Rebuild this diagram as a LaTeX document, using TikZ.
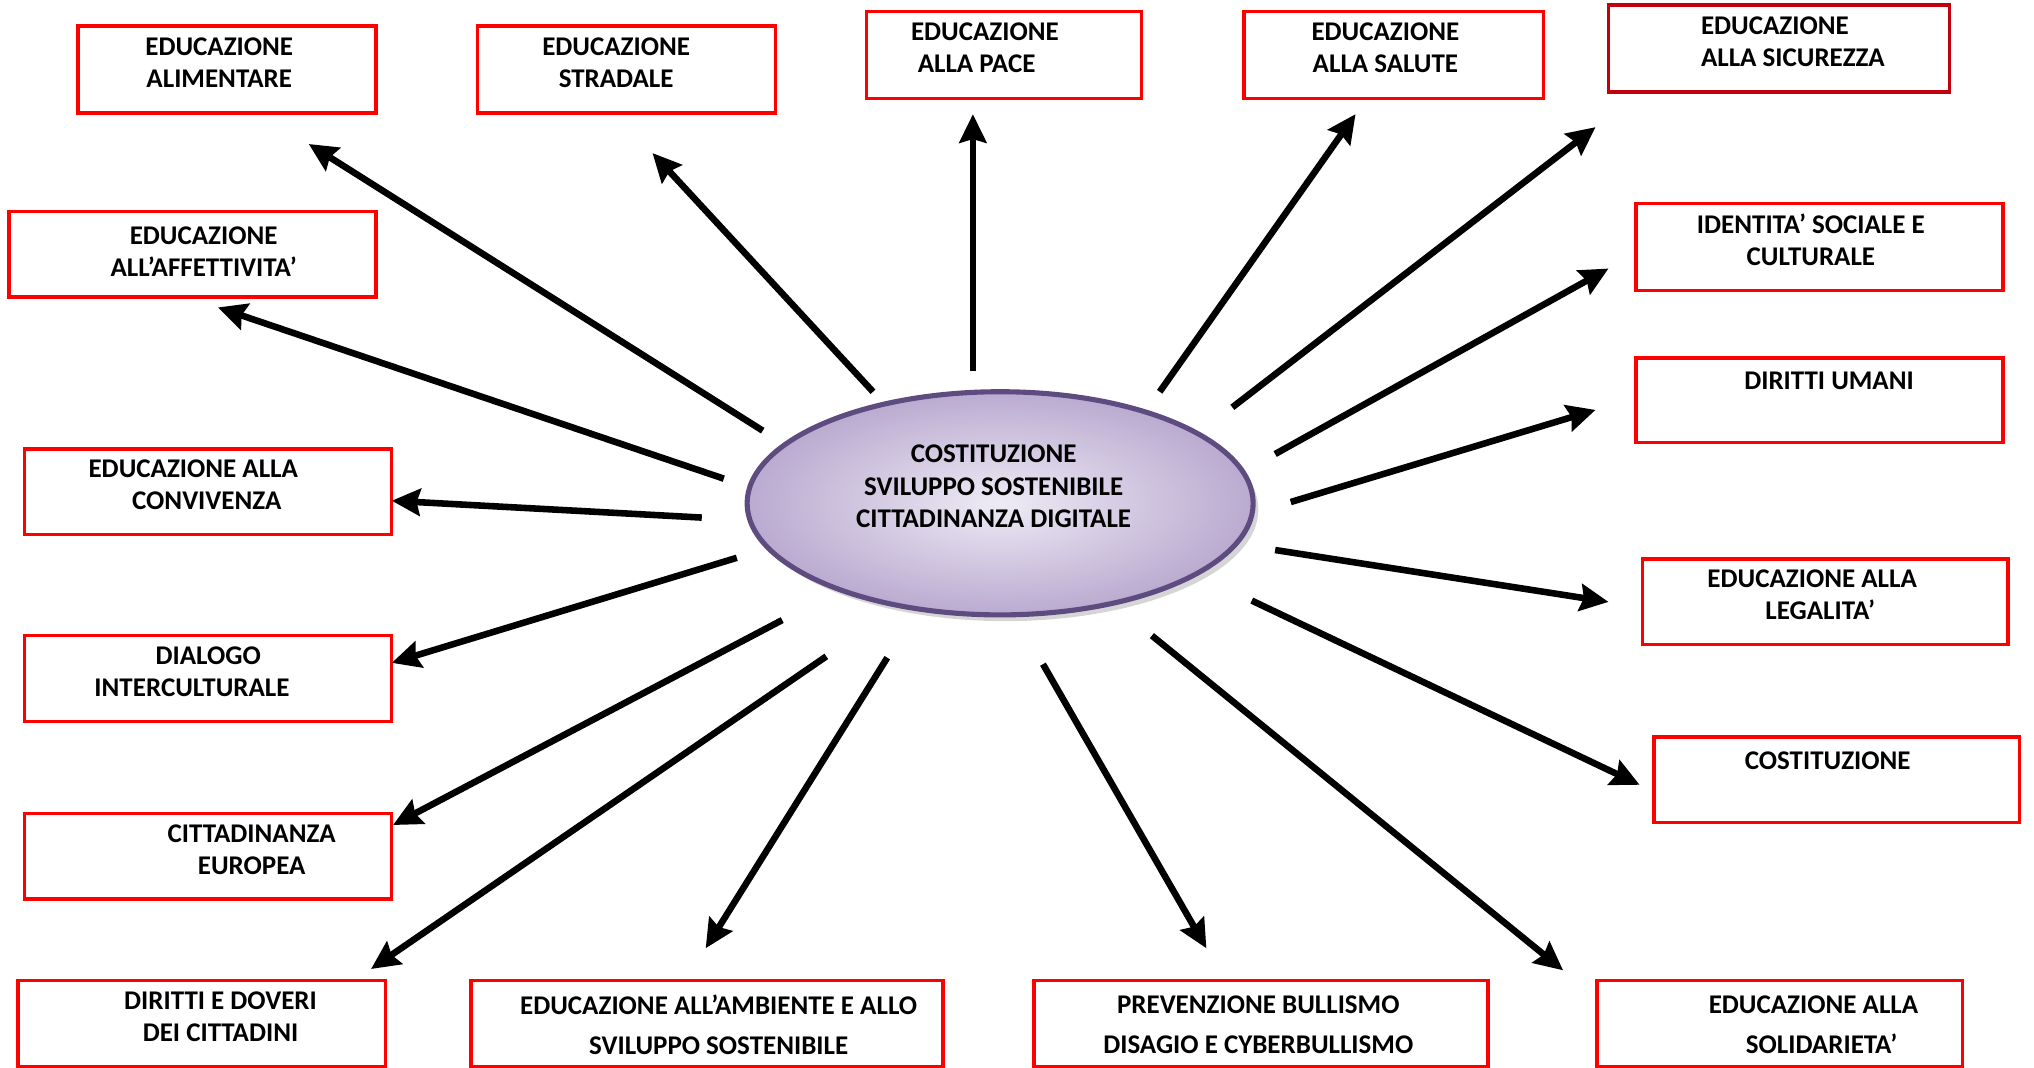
\documentclass[tikz,border=0pt]{standalone}
\usepackage{fontspec}
\setmainfont{Carlito}
\usetikzlibrary{arrows.meta,shapes.geometric,shadows}
\definecolor{dred}{rgb}{1,0,0}
\definecolor{ddred}{rgb}{0.76,0,0.05}
\definecolor{dpurple}{RGB}{94,76,128}
\definecolor{lpurple}{RGB}{238,235,245}
\definecolor{mpurple}{RGB}{186,170,208}

\begin{document}
\begin{tikzpicture}[x=0.025cm, y=-0.025cm,
    box/.style={draw=dred, line width=1.9pt, inner sep=0pt},
    lbl/.style={font=\fontsize{14.8}{17.7}\selectfont\bfseries, align=center, inner sep=0pt},
    wide/.style={font=\fontsize{14.8}{22}\selectfont\bfseries},
    arr/.style={line width=3.6pt, -{Stealth[length=0.55cm, width=0.52cm, inset=0.07cm]}}]
\useasboundingbox (0,0) rectangle (1568,823);
\node[ellipse, draw=dpurple, line width=2.8pt, minimum width=9.75cm, minimum height=4.3cm,
      inner color=lpurple, outer color=mpurple,
      drop shadow={shadow xshift=0.1cm, shadow yshift=-0.12cm, fill=gray!55, opacity=0.6}] (core) at (771,388) {};
\node[lbl] (core-t) at (766,375) {COSTITUZIONE\\SVILUPPO SOSTENIBILE\\CITTADINANZA DIGITALE};
\foreach \n/\cx/\cy/\w/\h in {ali/175/53.5/230/67, str/483/53.5/230/67, pac/774/42.5/212/67,
    sal/1074.5/42.5/231/67, ide/1402.5/190.5/283/67, aff/148.5/196/283/66,
    con/160.5/379/283/66, dum/1402.5/308.5/283/65, dia/160.5/523/283/66,
    leg/1407/464/282/66, eur/160.5/660/283/66, cos/1416/601/282/66,
    dov/155.5/789/283/66, amb/545/789/364/66, bul/972/789/350/66, sol/1372/789/282/66} {
    \node[box, minimum width=\w*0.025cm, minimum height=\h*0.025cm] (\n) at (\cx,\cy) {};
}
\node[box, draw=ddred, minimum width=263*0.025cm, minimum height=67*0.025cm] (sic) at (1371.5,37.5) {};
\node[lbl] (ali-t) at (169,48.5) {EDUCAZIONE\\ALIMENTARE};
\node[lbl] (str-t) at (475,48.5) {EDUCAZIONE\\STRADALE};
\node[lbl, align=left, anchor=west] (pac-t) at (702,37) {EDUCAZIONE\\\hspace{0.25em}ALLA PACE};
\node[lbl] (sal-t) at (1068,37) {EDUCAZIONE\\ALLA SALUTE};
\node[lbl, align=left, anchor=west] (sic-t) at (1311,32) {EDUCAZIONE\\ALLA SICUREZZA};
\node[lbl] (aff-t) at (157,194) {EDUCAZIONE\\ALL’AFFETTIVITA’};
\node[lbl] (ide-t) at (1396,185) {IDENTITA’ SOCIALE E\\CULTURALE\hspace{1.1em}};
\node[lbl] (con-t) at (149,373.5) {EDUCAZIONE ALLA\\\hspace{1em}CONVIVENZA};
\node[lbl] (dum-t) at (1410,293.5) {DIRITTI UMANI};
\node[lbl] (dia-t) at (148,518) {\hspace{1.2em}DIALOGO\\INTERCULTURALE};
\node[lbl] (leg-t) at (1397,458.5) {EDUCAZIONE ALLA\\\hspace{0.6em}LEGALITA’};
\node[lbl] (eur-t) at (194,655) {CITTADINANZA\\EUROPEA};
\node[lbl] (cos-t) at (1409,586.5) {COSTITUZIONE};
\node[lbl] (dov-t) at (170,784) {DIRITTI E DOVERI\\DEI CITTADINI};
\node[lbl, wide] (amb-t) at (554,790) {EDUCAZIONE ALL’AMBIENTE E ALLO\\SVILUPPO SOSTENIBILE};
\node[lbl, wide] (bul-t) at (970,790) {PREVENZIONE BULLISMO\\DISAGIO E CYBERBULLISMO};
\node[lbl, wide] (sol-t) at (1398,790) {EDUCAZIONE ALLA\\\hspace{0.6em}SOLIDARIETA’};
\foreach \n/\sx/\sy/\tx/\ty in {ali/588/332/238/111, str/673/302/503/118, pac/750/286/750/88,
    sal/894/302/1045/88, sic/950/314/1230/98, aff/558/369/168/237, ide/983/350/1240/207,
    con/541/399/302/386, dum/995/387/1230/316, dia/568/430/302/511, leg/983/424/1240/464,
    eur/603/478/303/636, cos/965/463/1264/605, dov/637/506/286/747, amb/684/507/544/731,
    bul/804/512/930/731, sol/888/490/1205/748} {
    \coordinate (s-\n) at (\sx,\sy);
    \coordinate (t-\n) at (\tx,\ty);
    \draw[arr] (s-\n) -- (t-\n);
}
\end{tikzpicture}
\end{document}
